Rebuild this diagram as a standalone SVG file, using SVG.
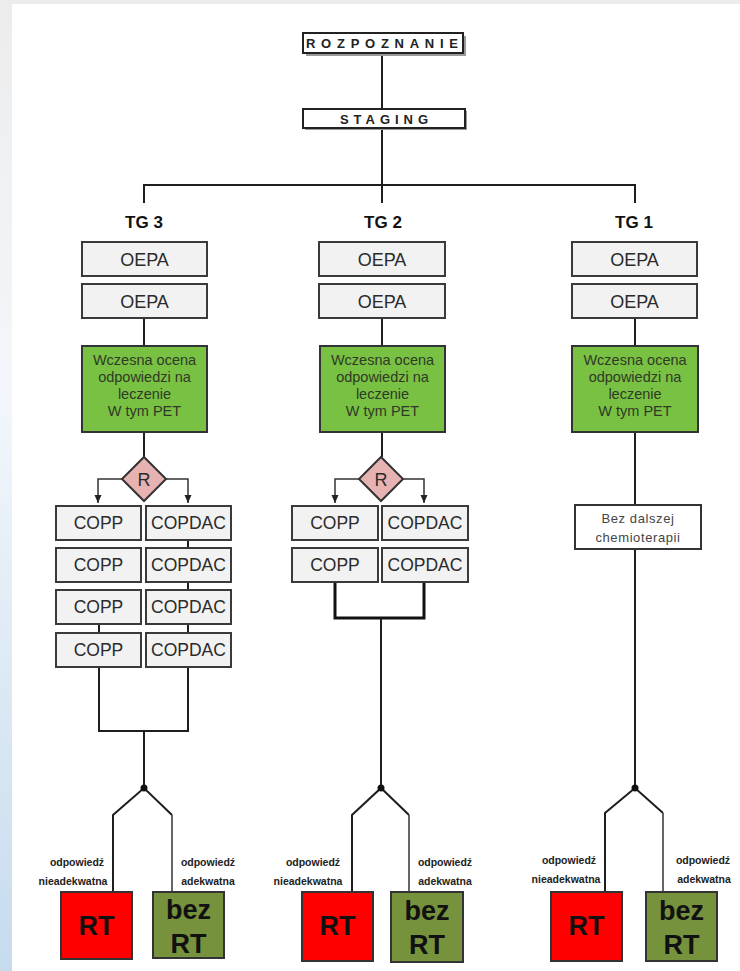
<svg xmlns="http://www.w3.org/2000/svg" width="740" height="971" viewBox="0 0 740 971">
<defs>
<linearGradient id="side" x1="0" y1="0" x2="0" y2="1">
<stop offset="0" stop-color="#ececec"/>
<stop offset="0.4" stop-color="#f3f7fb"/>
<stop offset="1" stop-color="#c6dbee"/>
</linearGradient>
<marker id="arr" markerWidth="8" markerHeight="8" refX="8" refY="4" orient="auto" markerUnits="userSpaceOnUse">
<path d="M0,0.5 L8,4 L0,7.5 z" fill="#222"/>
</marker>
<style>
.ttl{fill:#fff;stroke:#222;stroke-width:2}
.shd{fill:#9a9a9a}
.gray{fill:#f2f2f2;stroke:#3a3a3a;stroke-width:2}
.green{fill:#79c142;stroke:#333;stroke-width:2}
.dia{fill:#e6b3b2;stroke:#333;stroke-width:2}
.white{fill:#fff;stroke:#333;stroke-width:2}
.red{fill:#ff0000;stroke:#333;stroke-width:2}
.olive{fill:#76923c;stroke:#333;stroke-width:2}
.ln{fill:none;stroke:#1e1e1e;stroke-width:2}
.thin{fill:none;stroke:#333;stroke-width:1.5}
.thick{fill:none;stroke:#111;stroke-width:3}
.t{font-family:"Liberation Sans",Arial,sans-serif;text-anchor:middle;fill:#2b2b2b}
.cap{font-size:13px;font-weight:bold;fill:#222}
.tg{font-size:17px;font-weight:bold;fill:#111}
.big{font-size:18px}
.cp{font-size:17.5px}
.gt{font-size:14.5px;fill:#2f3a26}
.sm{font-size:13px;letter-spacing:0.6px;fill:#444}
.lab{font-size:10.5px;font-weight:bold;fill:#222}
.rt{font-size:27px;font-weight:bold;fill:#111}
</style>
</defs>
<rect x="0" y="0" width="740" height="971" fill="#ffffff"/>
<rect x="0" y="0" width="740" height="4" fill="#ececec"/>
<rect x="0" y="0" width="12" height="971" fill="url(#side)"/>

<g id="connectors">
<path class="ln" d="M382,53 V109"/>
<path class="ln" d="M382,128 V185"/>
<path class="ln" d="M144,203 V185 H635 V203"/>
<path class="ln" d="M382,185 V203"/>
<path class="ln" d="M144,318 V346"/>
<path class="ln" d="M382,318 V346"/>
<path class="ln" d="M635,318 V346"/>
<path class="ln" d="M144,432 V457"/>
<path class="ln" d="M382,432 V457"/>
<path class="ln" d="M635,432 V505"/>
<path class="thin" d="M122,479 H98 V503" marker-end="url(#arr)"/>
<path class="thin" d="M166,479 H188 V503" marker-end="url(#arr)"/>
<path class="thin" d="M359,479 H335 V503" marker-end="url(#arr)"/>
<path class="thin" d="M403,479 H424 V503" marker-end="url(#arr)"/>
<path class="ln" d="M188,540 V548 M188,582 V590 M188,624 V633 M99,624 V633"/>
<path class="ln" d="M99,667 V731 H188 V667"/>
<path class="ln" d="M144,731 V788"/>
<path class="thick" d="M335,582 V618 H424 V582"/>
<path class="ln" d="M381,618 V788"/>
<path class="ln" d="M635,549 V788"/>
<path class="ln" d="M113,892 V815 L144,788 L172,815"/>
<path class="thin" d="M172,815 V892"/>
<path class="ln" d="M352,892 V815 L381,788 L409,815"/>
<path class="thin" d="M409,815 V892"/>
<path class="ln" d="M605,892 V813 L635,788 L663,813"/>
<path class="thin" d="M663,813 V892"/>
<circle cx="144" cy="788" r="3.5" fill="#111"/>
<circle cx="381" cy="788" r="3.5" fill="#111"/>
<circle cx="635" cy="788" r="3.5" fill="#111"/>
</g>

<g id="rozpoznanie">
<rect class="shd" x="306" y="36" width="160" height="20"/>
<rect class="ttl" x="303" y="33" width="160" height="20"/>
<text class="t cap" x="382" y="48" textLength="152" lengthAdjust="spacing">ROZPOZNANIE</text>
</g>
<g id="staging">
<rect class="shd" x="305" y="111" width="162" height="19"/>
<rect class="ttl" x="303" y="109" width="162" height="19"/>
<text class="t cap" x="384" y="123.5" textLength="88" lengthAdjust="spacing">STAGING</text>
</g>

<g id="tg3-label"><text class="t tg" x="144" y="228">TG 3</text></g>
<g id="tg2-label"><text class="t tg" x="383" y="228">TG 2</text></g>
<g id="tg1-label"><text class="t tg" x="634" y="228">TG 1</text></g>

<g id="tg3-oepa1"><rect class="gray" x="82" y="242" width="125" height="34"/><text class="t big" x="144.5" y="265.5">OEPA</text></g>
<g id="tg3-oepa2"><rect class="gray" x="82" y="284" width="125" height="34"/><text class="t big" x="144.5" y="307.5">OEPA</text></g>
<g id="tg2-oepa1"><rect class="gray" x="319" y="242" width="126" height="34"/><text class="t big" x="382" y="265.5">OEPA</text></g>
<g id="tg2-oepa2"><rect class="gray" x="319" y="284" width="126" height="34"/><text class="t big" x="382" y="307.5">OEPA</text></g>
<g id="tg1-oepa1"><rect class="gray" x="572" y="242" width="125" height="34"/><text class="t big" x="634.5" y="265.5">OEPA</text></g>
<g id="tg1-oepa2"><rect class="gray" x="572" y="284" width="125" height="34"/><text class="t big" x="634.5" y="307.5">OEPA</text></g>

<g id="tg3-ocena"><rect class="green" x="82" y="346" width="125" height="86"/>
<text class="t gt" x="144.5"><tspan x="144.5" y="365">Wczesna ocena</tspan><tspan x="144.5" y="382">odpowiedzi na</tspan><tspan x="144.5" y="399">leczenie</tspan><tspan x="144.5" y="416">W tym PET</tspan></text></g>
<g id="tg2-ocena"><rect class="green" x="320" y="346" width="125" height="86"/>
<text class="t gt" x="382.5"><tspan x="382.5" y="365">Wczesna ocena</tspan><tspan x="382.5" y="382">odpowiedzi na</tspan><tspan x="382.5" y="399">leczenie</tspan><tspan x="382.5" y="416">W tym PET</tspan></text></g>
<g id="tg1-ocena"><rect class="green" x="572" y="346" width="126" height="86"/>
<text class="t gt" x="635"><tspan x="635" y="365">Wczesna ocena</tspan><tspan x="635" y="382">odpowiedzi na</tspan><tspan x="635" y="399">leczenie</tspan><tspan x="635" y="416">W tym PET</tspan></text></g>

<g id="tg3-r"><path class="dia" d="M144,457 L166,479 L144,501 L122,479 z"/><text class="t" x="144" y="486" font-size="18">R</text></g>
<g id="tg2-r"><path class="dia" d="M381,457 L403,479 L381,501 L359,479 z"/><text class="t" x="381" y="486" font-size="18">R</text></g>

<g id="tg3-copp1"><rect class="gray" x="56" y="506" width="85" height="34"/><text class="t cp" x="98.5" y="529">COPP</text></g>
<g id="tg3-copdac1"><rect class="gray" x="146" y="506" width="85" height="34"/><text class="t cp" x="188.5" y="529">COPDAC</text></g>
<g id="tg3-copp2"><rect class="gray" x="56" y="548" width="85" height="34"/><text class="t cp" x="98.5" y="571">COPP</text></g>
<g id="tg3-copdac2"><rect class="gray" x="146" y="548" width="85" height="34"/><text class="t cp" x="188.5" y="571">COPDAC</text></g>
<g id="tg3-copp3"><rect class="gray" x="56" y="590" width="85" height="34"/><text class="t cp" x="98.5" y="613">COPP</text></g>
<g id="tg3-copdac3"><rect class="gray" x="146" y="590" width="85" height="34"/><text class="t cp" x="188.5" y="613">COPDAC</text></g>
<g id="tg3-copp4"><rect class="gray" x="56" y="633" width="85" height="34"/><text class="t cp" x="98.5" y="656">COPP</text></g>
<g id="tg3-copdac4"><rect class="gray" x="146" y="633" width="85" height="34"/><text class="t cp" x="188.5" y="656">COPDAC</text></g>

<g id="tg2-copp1"><rect class="gray" x="292" y="506" width="86" height="34"/><text class="t cp" x="335" y="529">COPP</text></g>
<g id="tg2-copdac1"><rect class="gray" x="382" y="506" width="86" height="34"/><text class="t cp" x="425" y="529">COPDAC</text></g>
<g id="tg2-copp2"><rect class="gray" x="292" y="548" width="86" height="34"/><text class="t cp" x="335" y="571">COPP</text></g>
<g id="tg2-copdac2"><rect class="gray" x="382" y="548" width="86" height="34"/><text class="t cp" x="425" y="571">COPDAC</text></g>

<g id="tg1-bez-chemio"><rect class="white" x="575" y="505" width="126" height="44"/>
<text class="t sm"><tspan x="638" y="523">Bez dalszej</tspan><tspan x="638" y="542">chemioterapii</tspan></text></g>

<g id="tg3-labels">
<text class="t lab"><tspan x="77" y="866">odpowiedź</tspan><tspan x="73" y="885">nieadekwatna</tspan></text>
<text class="t lab"><tspan x="208" y="866">odpowiedź</tspan><tspan x="208" y="885">adekwatna</tspan></text>
</g>
<g id="tg2-labels">
<text class="t lab"><tspan x="313" y="866">odpowiedź</tspan><tspan x="308" y="885">nieadekwatna</tspan></text>
<text class="t lab"><tspan x="445" y="866">odpowiedź</tspan><tspan x="445" y="885">adekwatna</tspan></text>
</g>
<g id="tg1-labels">
<text class="t lab"><tspan x="569" y="864">odpowiedź</tspan><tspan x="566" y="883">nieadekwatna</tspan></text>
<text class="t lab"><tspan x="703" y="864">odpowiedź</tspan><tspan x="704" y="883">adekwatna</tspan></text>
</g>

<g id="tg3-rt"><rect class="red" x="61" y="892" width="71" height="67"/><text class="t rt" x="96.5" y="935">RT</text></g>
<g id="tg3-bezrt"><rect class="olive" x="153" y="892" width="71" height="66"/><text class="t rt"><tspan x="188.5" y="919">bez</tspan><tspan x="188.5" y="953">RT</tspan></text></g>
<g id="tg2-rt"><rect class="red" x="302" y="892" width="71" height="69"/><text class="t rt" x="337.5" y="935">RT</text></g>
<g id="tg2-bezrt"><rect class="olive" x="391" y="892" width="72" height="70"/><text class="t rt"><tspan x="427" y="920">bez</tspan><tspan x="427" y="954">RT</tspan></text></g>
<g id="tg1-rt"><rect class="red" x="551" y="892" width="71" height="69"/><text class="t rt" x="586.5" y="935">RT</text></g>
<g id="tg1-bezrt"><rect class="olive" x="646" y="892" width="71" height="69"/><text class="t rt"><tspan x="681.5" y="920">bez</tspan><tspan x="681.5" y="954">RT</tspan></text></g>
</svg>
